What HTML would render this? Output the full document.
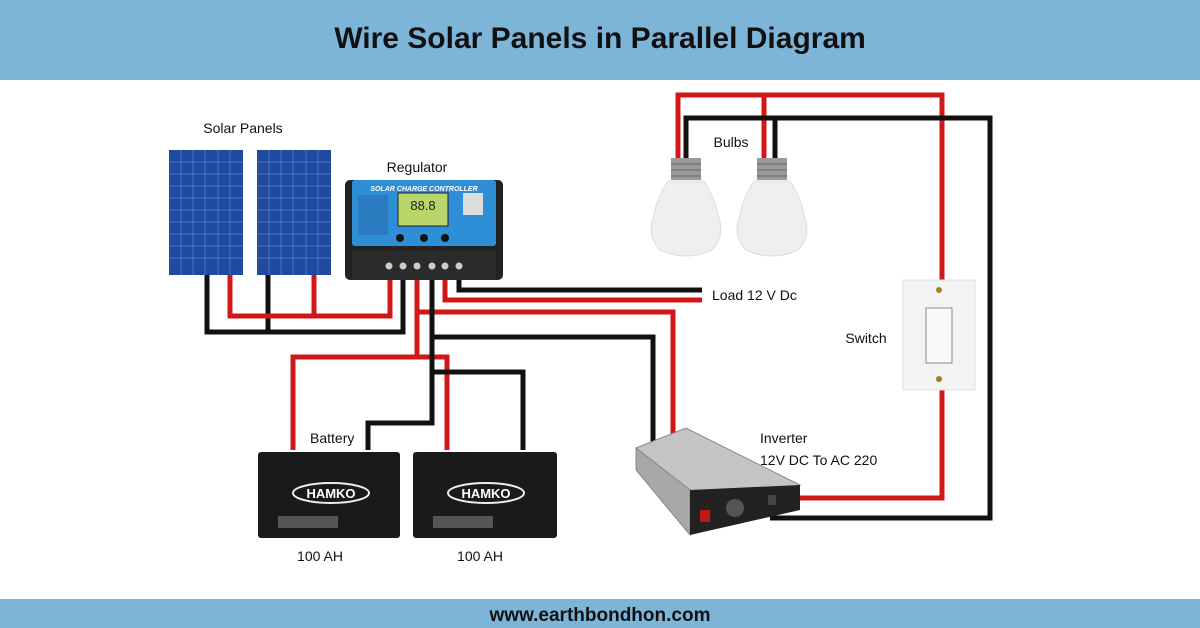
<!DOCTYPE html>
<html><head><meta charset="utf-8"><style>
html,body{margin:0;padding:0;background:#fff}
svg{display:block}
text{font-family:"Liberation Sans",sans-serif}
</style></head><body>
<svg width="1200" height="628" viewBox="0 0 1200 628" xmlns="http://www.w3.org/2000/svg">
<rect width="1200" height="628" fill="#fff"/>
<rect x="0" y="0" width="1200" height="80" fill="#7db5d9"/>
<text x="600" y="48" text-anchor="middle" font-size="30" font-weight="bold" fill="#111">Wire Solar Panels  in Parallel Diagram</text>
<rect x="0" y="599" width="1200" height="29" fill="#7db5d9"/>
<text x="600" y="621" text-anchor="middle" font-size="19" font-weight="bold" fill="#111">www.earthbondhon.com</text>

<g fill="none" stroke-width="5" stroke-linejoin="miter">
<polyline points="207,272 207,332 403,332 403,266" stroke="#111"/>
<line x1="268" y1="272" x2="268" y2="332" stroke="#111"/>
<polyline points="230,272 230,316 390,316 390,266" stroke="#d01818"/>
<line x1="314" y1="272" x2="314" y2="316" stroke="#d01818"/>
<polyline points="417,266 417,357" stroke="#d01818"/>
<polyline points="293,450 293,357 447,357 447,450" stroke="#d01818"/>
<polyline points="417,312 673,312 673,440" stroke="#d01818"/>
<polyline points="432,266 432,423 368,423 368,450" stroke="#111"/>
<polyline points="432,372 523,372 523,450" stroke="#111"/>
<polyline points="432,337 653,337 653,445" stroke="#111"/>
<polyline points="445,266 445,300 702,300" stroke="#d01818"/>
<polyline points="459,266 459,290 702,290" stroke="#111"/>
<polyline points="678,165 678,95 942,95 942,285" stroke="#d01818"/>
<line x1="764" y1="95" x2="764" y2="165" stroke="#d01818"/>
<polyline points="686,165 686,118 990,118 990,518 770,518" stroke="#111"/>
<line x1="775" y1="118" x2="775" y2="165" stroke="#111"/>
<polyline points="942,385 942,498 775,498" stroke="#d01818"/>
</g>

<g>
<rect x="169" y="150" width="74" height="125" fill="#1f4aa0"/>
<rect x="257" y="150" width="74" height="125" fill="#1f4aa0"/>
<g stroke="#5a7fcc" stroke-width="0.8">
<line x1="181" y1="150" x2="181" y2="275"/><line x1="193" y1="150" x2="193" y2="275"/><line x1="205" y1="150" x2="205" y2="275"/><line x1="218" y1="150" x2="218" y2="275"/><line x1="230" y1="150" x2="230" y2="275"/>
<line x1="269" y1="150" x2="269" y2="275"/><line x1="281" y1="150" x2="281" y2="275"/><line x1="293" y1="150" x2="293" y2="275"/><line x1="306" y1="150" x2="306" y2="275"/><line x1="318" y1="150" x2="318" y2="275"/>
<line x1="169" y1="162" x2="331" y2="162"/><line x1="169" y1="174" x2="331" y2="174"/><line x1="169" y1="186" x2="331" y2="186"/><line x1="169" y1="198" x2="331" y2="198"/><line x1="169" y1="210" x2="331" y2="210"/><line x1="169" y1="222" x2="331" y2="222"/><line x1="169" y1="234" x2="331" y2="234"/><line x1="169" y1="246" x2="331" y2="246"/><line x1="169" y1="258" x2="331" y2="258"/>
</g>
<rect x="243" y="150" width="14" height="125" fill="#fff"/>
</g>
<text x="243" y="133" text-anchor="middle" font-size="14" fill="#111">Solar Panels</text>

<text x="417" y="172" text-anchor="middle" font-size="14" fill="#111">Regulator</text>
<rect x="345" y="180" width="158" height="100" rx="5" fill="#222"/>
<rect x="352" y="180" width="144" height="66" rx="3" fill="#2e8fd6"/>
<text x="424" y="191" text-anchor="middle" font-size="7" font-weight="bold" font-style="italic" fill="#fff">SOLAR CHARGE CONTROLLER</text>
<rect x="398" y="193" width="50" height="33" fill="#b8d66a" stroke="#222"/>
<text x="423" y="210" text-anchor="middle" font-size="13" fill="#222">88.8</text>
<rect x="463" y="193" width="20" height="22" fill="#ddd"/>
<circle cx="400" cy="238" r="4" fill="#111"/><circle cx="424" cy="238" r="4" fill="#111"/><circle cx="445" cy="238" r="4" fill="#111"/>
<rect x="358" y="195" width="30" height="40" fill="#2b7bc0"/>
<rect x="352" y="250" width="144" height="30" fill="#2b2b2b"/>
<g fill="#ccc"><circle cx="389" cy="266" r="3.5"/><circle cx="403" cy="266" r="3.5"/><circle cx="417" cy="266" r="3.5"/><circle cx="432" cy="266" r="3.5"/><circle cx="445" cy="266" r="3.5"/><circle cx="459" cy="266" r="3.5"/></g>

<text x="731" y="147" text-anchor="middle" font-size="14" fill="#111">Bulbs</text>
<g>
<rect x="671" y="158" width="30" height="22" fill="#9a9a9a"/>
<g stroke="#666" stroke-width="1"><line x1="671" y1="164" x2="701" y2="164"/><line x1="671" y1="170" x2="701" y2="170"/><line x1="671" y1="176" x2="701" y2="176"/></g>
<path d="M668,181 L704,181 Q716,200 718,215 Q726,235 712,250 Q686,262 660,250 Q646,235 654,215 Q656,200 668,181Z" fill="#efefef" stroke="#ddd"/>
<rect x="757" y="158" width="30" height="22" fill="#9a9a9a"/>
<g stroke="#666" stroke-width="1"><line x1="757" y1="164" x2="787" y2="164"/><line x1="757" y1="170" x2="787" y2="170"/><line x1="757" y1="176" x2="787" y2="176"/></g>
<path d="M754,181 L790,181 Q802,200 804,215 Q812,235 798,250 Q772,262 746,250 Q732,235 740,215 Q742,200 754,181Z" fill="#efefef" stroke="#ddd"/>
</g>
<text x="712" y="300" font-size="14" fill="#111">Load 12 V Dc</text>

<rect x="903" y="280" width="72" height="110" fill="#f3f3f3" stroke="#e0e0e0"/>
<rect x="926" y="308" width="26" height="55" fill="#fafafa" stroke="#888"/>
<circle cx="939" cy="290" r="3" fill="#a08020"/><circle cx="939" cy="379" r="3" fill="#a08020"/>
<text x="866" y="343" text-anchor="middle" font-size="14" fill="#111">Switch</text>

<polygon points="636,448 686,428 800,485 745,500 690,490" fill="#c4c4c4" stroke="#888"/>
<polygon points="636,448 690,490 690,535 636,470" fill="#a8a8a8" stroke="#888"/>
<polygon points="690,490 800,485 800,510 690,535" fill="#222"/>
<circle cx="735" cy="508" r="9" fill="#555"/>
<rect x="700" y="510" width="10" height="12" fill="#c01818"/>
<rect x="768" y="495" width="8" height="10" fill="#444"/>
<text x="760" y="443" font-size="14" fill="#111">Inverter</text>
<text x="760" y="465" font-size="14" fill="#111">12V DC To AC 220</text>

<text x="310" y="443" font-size="14" fill="#111">Battery</text>
<g>
<rect x="258" y="452" width="142" height="86" rx="3" fill="#1a1a1a"/>
<rect x="413" y="452" width="144" height="86" rx="3" fill="#1a1a1a"/>
<ellipse cx="331" cy="493" rx="38" ry="10" fill="none" stroke="#eee" stroke-width="2"/>
<text x="331" y="498" text-anchor="middle" font-size="13" font-weight="bold" fill="#fff">HAMKO</text>
<ellipse cx="486" cy="493" rx="38" ry="10" fill="none" stroke="#eee" stroke-width="2"/>
<text x="486" y="498" text-anchor="middle" font-size="13" font-weight="bold" fill="#fff">HAMKO</text>
<rect x="278" y="516" width="60" height="12" fill="#555"/>
<rect x="433" y="516" width="60" height="12" fill="#555"/>
</g>
<text x="320" y="561" text-anchor="middle" font-size="14" fill="#111">100 AH</text>
<text x="480" y="561" text-anchor="middle" font-size="14" fill="#111">100 AH</text>
</svg>
</body></html>
